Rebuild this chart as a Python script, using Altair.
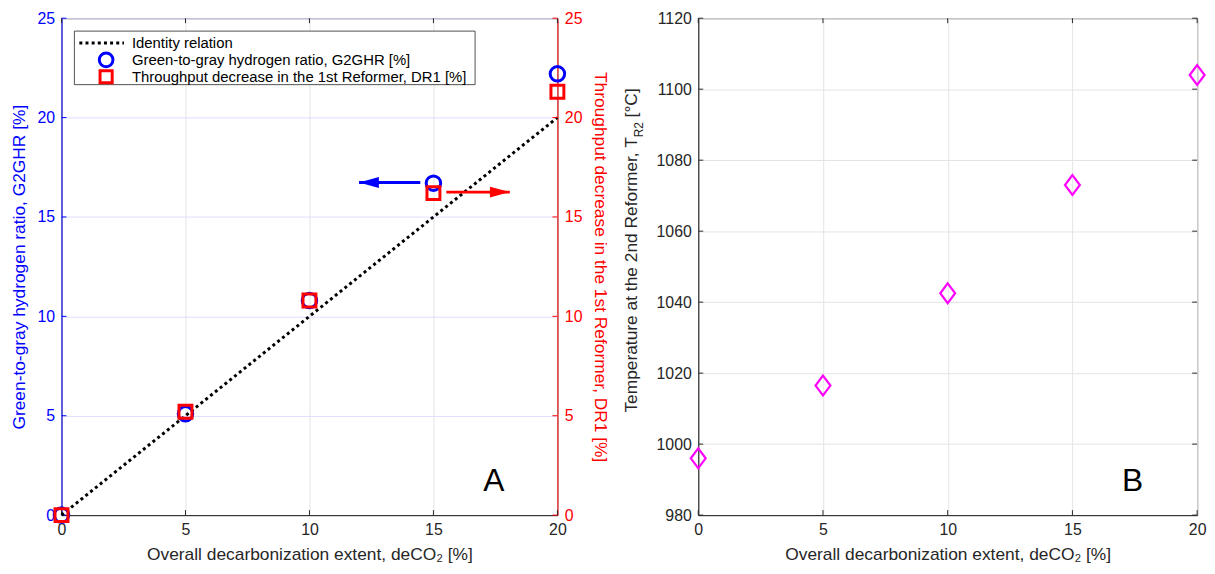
import altair as alt
import pandas as pd

# ---- data -------------------------------------------------------------
decarb = [0, 5, 10, 15, 20]                       # deCO2 [%]
g2ghr = [0, 5.1, 10.8, 16.7, 22.2]                # green-to-gray hydrogen ratio [%]
dr1 = [0, 5.2, 10.8, 16.2, 21.3]                  # throughput decrease, 1st reformer [%]
t_r2 = [996, 1016.5, 1042.5, 1073, 1104]          # temperature at 2nd reformer [°C]
identity_x = [0, 20]

x_ticks = [0, 5, 10, 15, 20]
pct_ticks = [0, 5, 10, 15, 20, 25]
temp_ticks = [980, 1000, 1020, 1040, 1060, 1080, 1100, 1120]

# axis-pointer arrows (data units): start, tip, level
blue_arrow = {"x": 14.47, "tip": 12.0, "v": 16.73}
red_arrow = {"x": 15.52, "tip": 18.08, "v": 16.25}

legend_labels = [
    "Identity relation",
    "Green-to-gray hydrogen ratio, G2GHR [%]",
    "Throughput decrease in the 1st Reformer, DR1 [%]",
]

# ---- style ------------------------------------------------------------
FONT = "Liberation Sans"
BLUE = "#0000ff"
RED = "#ff0000"
MAGENTA = "#ff00ff"
DARK = "#262626"
GRID = "#e4e4e4"
GRID_BLUE = "#dedeff"

WA, HA = 500, 501
WB, HB = 503, 501
TICK = 5

X_TITLE = "Overall decarbonization extent, deCO\u2082 [%]"

def x_enc():
    return alt.X(
        "x:Q",
        scale=alt.Scale(domain=[0, 20], nice=False, zero=False),
        axis=alt.Axis(
            values=x_ticks, title=X_TITLE, grid=True, gridColor=GRID,
            labelFlush=False, labelOverlap=False,
        ),
    )

left_axis = alt.Axis(
    orient="left", values=pct_ticks, title="Green-to-gray hydrogen ratio, G2GHR [%]",
    grid=True, gridColor=GRID_BLUE, domainColor=BLUE, labelColor=BLUE, titleColor=BLUE,
    labelOverlap=False, titlePadding=9,
)
right_axis = alt.Axis(
    orient="right", values=pct_ticks, title="Throughput decrease in the 1st Reformer, DR1 [%]",
    grid=False, domainColor=RED, labelColor=RED, titleColor=RED,
    labelOverlap=False, titlePadding=9,
)

def y_left():
    return alt.Y("v:Q", scale=alt.Scale(domain=[0, 25], nice=False, zero=False), axis=left_axis)

def y_right():
    return alt.Y("v:Q", scale=alt.Scale(domain=[0, 25], nice=False, zero=False), axis=right_axis)

one_row = pd.DataFrame({"k": [0]})

# ---- panel A ----------------------------------------------------------
df_id = pd.DataFrame({"x": identity_x, "v": identity_x})
df_g = pd.DataFrame({"x": decarb, "v": g2ghr})
df_d = pd.DataFrame({"x": decarb, "v": dr1})
df_xt = pd.DataFrame({"x": x_ticks})
df_pt = pd.DataFrame({"v": pct_ticks})

identity = alt.Chart(df_id).mark_line(
    color="black", strokeWidth=3, strokeDash=[3, 3.2], strokeCap="butt"
).encode(x=x_enc(), y=y_left())

circles = alt.Chart(df_g).mark_point(
    shape="circle", filled=False, size=214, strokeWidth=3, color=BLUE, opacity=1
).encode(x=x_enc(), y=y_left())

blue_shaft = alt.Chart(pd.DataFrame([blue_arrow])).mark_rule(
    color=BLUE, strokeWidth=3
).encode(x=x_enc(), x2=alt.X2("tip"), y=y_left())
blue_head = alt.Chart(pd.DataFrame([blue_arrow])).mark_point(
    shape="M0,0L2,-0.55L2,0.55Z", size=400, filled=True, color=BLUE, opacity=1
).encode(x=alt.X("tip:Q", scale=alt.Scale(domain=[0, 20], nice=False, zero=False)), y=y_left())

left_ticks_x_bottom = alt.Chart(df_xt).mark_rule(color=DARK, strokeWidth=1).encode(
    x=x_enc(), y=alt.value(HA), y2=alt.value(HA - TICK))
left_ticks_x_top = alt.Chart(df_xt).mark_rule(color=DARK, strokeWidth=1).encode(
    x=x_enc(), y=alt.value(0), y2=alt.value(TICK))
left_ticks_y = alt.Chart(df_pt).mark_rule(color=BLUE, strokeWidth=1).encode(
    y=y_left(), x=alt.value(0), x2=alt.value(TICK))

# legend
LEG_ROWS = [25, 42, 59]
leg_box = alt.Chart(one_row).mark_rect(fill="white", stroke=DARK, strokeWidth=0.8).encode(
    x=alt.value(13), x2=alt.value(417), y=alt.value(13), y2=alt.value(67))
leg_line = alt.Chart(one_row).mark_rule(
    color="black", strokeWidth=3, strokeDash=[3, 3.2], strokeCap="butt"
).encode(x=alt.value(18), x2=alt.value(63), y=alt.value(LEG_ROWS[0]), y2=alt.value(LEG_ROWS[0]))
leg_circle = alt.Chart(one_row).mark_point(
    shape="circle", filled=False, size=190, strokeWidth=3, color=BLUE, opacity=1
).encode(x=alt.value(45), y=alt.value(LEG_ROWS[1]))
leg_square = alt.Chart(one_row).mark_point(
    shape="square", filled=False, size=150, strokeWidth=3, color=RED, opacity=1
).encode(x=alt.value(45), y=alt.value(LEG_ROWS[2]))
leg_texts = [
    alt.Chart(one_row).mark_text(
        text=lbl, align="left", baseline="middle", font=FONT, fontSize=15, color="black"
    ).encode(x=alt.value(71), y=alt.value(LEG_ROWS[i]))
    for i, lbl in enumerate(legend_labels)
]

label_a = alt.Chart(one_row).mark_text(
    text="A", align="center", baseline="middle", font=FONT, fontSize=32, color="black"
).encode(x=alt.value(436), y=alt.value(467))

left_group = alt.layer(
    left_ticks_x_bottom, left_ticks_x_top, left_ticks_y,
    identity, circles, blue_shaft, blue_head,
    leg_box, leg_line, leg_circle, leg_square, *leg_texts, label_a,
)

squares = alt.Chart(df_d).mark_point(
    shape="square", filled=False, size=170, strokeWidth=3, color=RED, opacity=1
).encode(x=x_enc(), y=y_right())
red_shaft = alt.Chart(pd.DataFrame([red_arrow])).mark_rule(
    color=RED, strokeWidth=3
).encode(x=x_enc(), x2=alt.X2("tip"), y=y_right())
red_head = alt.Chart(pd.DataFrame([red_arrow])).mark_point(
    shape="M0,0L-2,-0.55L-2,0.55Z", size=400, filled=True, color=RED, opacity=1
).encode(x=alt.X("tip:Q", scale=alt.Scale(domain=[0, 20], nice=False, zero=False)), y=y_right())
right_ticks_y = alt.Chart(df_pt).mark_rule(color=RED, strokeWidth=1).encode(
    y=y_right(), x=alt.value(WA), x2=alt.value(WA - TICK))

right_group = alt.layer(right_ticks_y, squares, red_shaft, red_head)

panel_a = alt.layer(left_group, right_group).resolve_scale(y="independent").properties(
    width=WA, height=HA)

# ---- panel B ----------------------------------------------------------
df_t = pd.DataFrame({"x": decarb, "t": t_r2})
df_tt = pd.DataFrame({"t": temp_ticks})

def y_temp():
    return alt.Y(
        "t:Q",
        scale=alt.Scale(domain=[980, 1120], nice=False, zero=False),
        axis=alt.Axis(values=temp_ticks, title=None, grid=True, gridColor=GRID,
                      labelOverlap=False, format="d"),
    )

diamonds = alt.Chart(df_t).mark_point(
    shape="M0,-1L0.75,0L0,1L-0.75,0Z", filled=False, size=400, strokeWidth=2.2,
    color=MAGENTA, opacity=1
).encode(x=x_enc(), y=y_temp())

b_ticks_x_bottom = alt.Chart(df_xt).mark_rule(color=DARK, strokeWidth=1).encode(
    x=x_enc(), y=alt.value(HB), y2=alt.value(HB - TICK))
b_ticks_x_top = alt.Chart(df_xt).mark_rule(color=DARK, strokeWidth=1).encode(
    x=x_enc(), y=alt.value(0), y2=alt.value(TICK))
b_ticks_y_left = alt.Chart(df_tt).mark_rule(color=DARK, strokeWidth=1).encode(
    y=y_temp(), x=alt.value(0), x2=alt.value(TICK))
b_ticks_y_right = alt.Chart(df_tt).mark_rule(color=DARK, strokeWidth=1).encode(
    y=y_temp(), x=alt.value(WB), x2=alt.value(WB - TICK))

# y title with subscript, drawn as rotated text pieces
TY = 120
title_main = alt.Chart(one_row).mark_text(
    text="Temperature at the 2nd Reformer, T", angle=270, align="right", baseline="middle",
    font=FONT, fontSize=17.5, color=DARK
).encode(x=alt.value(-67), y=alt.value(TY))
title_sub = alt.Chart(one_row).mark_text(
    text="R2", angle=270, align="left", baseline="middle",
    font=FONT, fontSize=12, color=DARK
).encode(x=alt.value(-60), y=alt.value(TY))
title_end = alt.Chart(one_row).mark_text(
    text="[°C]", angle=270, align="left", baseline="middle",
    font=FONT, fontSize=17.5, color=DARK
).encode(x=alt.value(-67), y=alt.value(TY - 20))

label_b = alt.Chart(one_row).mark_text(
    text="B", align="center", baseline="middle", font=FONT, fontSize=32, color="black"
).encode(x=alt.value(438), y=alt.value(467))

panel_b = alt.layer(
    b_ticks_x_bottom, b_ticks_x_top, b_ticks_y_left, b_ticks_y_right,
    diamonds, title_main, title_sub, title_end, label_b,
).properties(width=WB, height=HB)

chart = alt.hconcat(panel_a, panel_b, spacing=12).properties(
    padding={"left": 9, "top": 7, "right": 5, "bottom": 5}
).configure(
    font=FONT,
).configure_view(
    stroke=DARK, strokeWidth=1,
).configure_axis(
    labelFont=FONT, labelFontSize=16, labelColor=DARK, labelPadding=7,
    titleFont=FONT, titleFontSize=17.5, titleFontWeight="normal", titleColor=DARK,
    domainColor=DARK, domainWidth=1, ticks=False, titlePadding=8,
)

chart.save("out.html", embed_options={"renderer": "svg", "actions": False})
